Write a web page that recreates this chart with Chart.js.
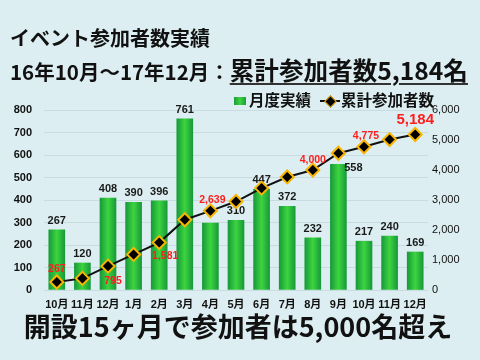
<!DOCTYPE html>
<html><head><meta charset="utf-8">
<script src="https://cdn.jsdelivr.net/npm/chart.js@4/dist/chart.umd.min.js"></script>
<style>
html,body{margin:0;padding:0;background:#DCEEF1;width:480px;height:360px;overflow:hidden;font-family:"Noto Sans CJK JP",sans-serif;}
#wrap{position:relative;width:480px;height:360px;}
canvas{position:absolute;left:0;top:0;}
.t{position:absolute;white-space:nowrap;font-weight:700;color:#111;line-height:1;}
</style></head><body>
<div id="wrap">
<canvas id="c" width="480" height="360"></canvas>
<div class="t" style="left:10px;top:28px;font-size:20px;">イベント参加者数実績</div>
<div class="t" style="left:10px;top:57px;"><span style="font-size:20.5px">16年10月～17年12月：</span><span style="font-size:24.6px;text-decoration:underline;text-decoration-thickness:2px;text-underline-offset:3px;text-decoration-color:#333;">累計参加者数5,184名</span></div>
<div style="position:absolute;left:234px;top:97px;width:12px;height:8px;background:linear-gradient(90deg,#1A9C3C,#3DD23F,#1A9C3C);"></div>
<div class="t" style="left:249px;top:92px;font-size:15.5px;">月度実績</div>
<div style="position:absolute;left:320px;top:100px;width:20px;height:2px;background:#111;"></div>
<div style="position:absolute;left:326px;top:97px;width:7px;height:7px;background:#000;border:1.5px solid #F7B500;transform:rotate(45deg);"></div>
<div class="t" style="left:341px;top:92px;font-size:15.5px;">累計参加者数</div>
<div class="t" style="left:0;top:312px;width:476px;text-align:center;font-size:27px;">開設15ヶ月で参加者は5,000名超え</div>
</div>
<script>
const categories = ['10月','11月','12月','1月','2月','3月','4月','5月','6月','7月','8月','9月','10月','11月','12月'];
const monthly = [267,120,408,390,396,761,297,310,447,372,232,558,217,240,169];
const cumulative = [267,387,795,1185,1581,2342,2639,2949,3396,3768,4000,4558,4775,5015,5184];
const leftTicks = [0,100,200,300,400,500,600,700,800];
const rightTicks = [0,1000,2000,3000,4000,5000,6000];

const FONT = '"Liberation Sans", "Noto Sans CJK JP", Arial, sans-serif';
const barLabelHidden = {6:true};
const barLabelOffset = {11:{dx:15,dy:4}};
const cumLabelOffset = {0:{dx:0,dy:-13},2:{dx:5,dy:15},4:{dx:6,dy:14},6:{dx:2,dy:-11},10:{dx:0,dy:-10},12:{dx:2,dy:-11},14:{dx:0,dy:-15,big:true}};

const labelPlugin = {
  id:'valueLabels',
  afterDatasetDraw(chart, args){
    const ctx = chart.ctx;
    if(args.index===0){
      const meta = chart.getDatasetMeta(0);
      ctx.save();
      ctx.textAlign='center'; ctx.textBaseline='middle';
      ctx.font='bold 11px '+FONT; ctx.fillStyle='#1a1a1a';
      meta.data.forEach((el,i)=>{
        if(barLabelHidden[i]) return;
        const o = barLabelOffset[i]||{dx:0,dy:-9};
        ctx.fillText(String(monthly[i]), el.x+o.dx, el.y+o.dy);
      });
      ctx.restore();
    }
  },
  afterDatasetsDraw(chart){
    const ctx = chart.ctx;
    const meta = chart.getDatasetMeta(1);
    ctx.save();
    ctx.textAlign='center'; ctx.textBaseline='middle';
    ctx.fillStyle='#FF1E1E';
    meta.data.forEach((el,i)=>{
      const o = cumLabelOffset[i]; if(!o) return;
      ctx.font = o.big ? 'bold 15px '+FONT : 'bold 10.5px '+FONT;
      ctx.fillText(cumulative[i].toLocaleString('en-US'), el.x+o.dx, el.y+o.dy);
    });
    ctx.restore();
  }
};

new Chart(document.getElementById('c'), {
  data:{
    labels: categories,
    datasets:[
      {type:'bar', label:'月度実績', data: monthly, yAxisID:'y', order:1, barThickness:16,
        backgroundColor:(c)=>{
          const ch=c.chart; const {ctx, chartArea, scales}=ch;
          if(!chartArea || c.type!=='data' || !scales.x) return '#2DC63E';
          const x = scales.x.getPixelForValue(c.dataIndex);
          const g = ctx.createLinearGradient(x-8,0,x+8,0);
          g.addColorStop(0,'#179A3A'); g.addColorStop(0.5,'#3DD43F'); g.addColorStop(1,'#179A3A');
          return g;
        }},
      {type:'line', label:'累計参加者数', data: cumulative, yAxisID:'y2', order:0,
        borderColor:'#111', borderWidth:2, tension:0,
        pointStyle:'rectRot', pointRadius:6.5, pointBackgroundColor:'#000',
        pointBorderColor:'#F7B500', pointBorderWidth:2}
    ]
  },
  options:{
    responsive:false, animation:false,
    layout:{padding:{top:110,bottom:45,left:0,right:0}},
    plugins:{legend:{display:false}, tooltip:{enabled:false}},
    scales:{
      x:{offset:true, grid:{display:false, drawTicks:false}, border:{display:false},
        ticks:{font:{size:11,weight:'bold',family:FONT}, color:'#111', padding:8, maxRotation:0, autoSkip:false},
        afterFit(s){s.height=25;}},
      y:{position:'left', min:0, max:800,
        afterBuildTicks(s){s.ticks = leftTicks.map(v=>({value:v}));},
        ticks:{font:{size:11,weight:'bold',family:FONT}, color:'#111', padding:12},
        grid:{color:'#C8DCDF', drawTicks:false}, border:{display:false},
        afterFit(s){s.width=44;}},
      y2:{position:'right', min:0, max:6000,
        afterBuildTicks(s){s.ticks = rightTicks.map(v=>({value:v}));},
        ticks:{font:{size:11,family:FONT}, color:'#111', padding:4, callback:v=>v.toLocaleString('en-US')},
        grid:{display:false, drawTicks:false}, border:{display:false},
        afterFit(s){s.width=52;}}
    }
  },
  plugins:[labelPlugin]
});
</script>
</body></html>
